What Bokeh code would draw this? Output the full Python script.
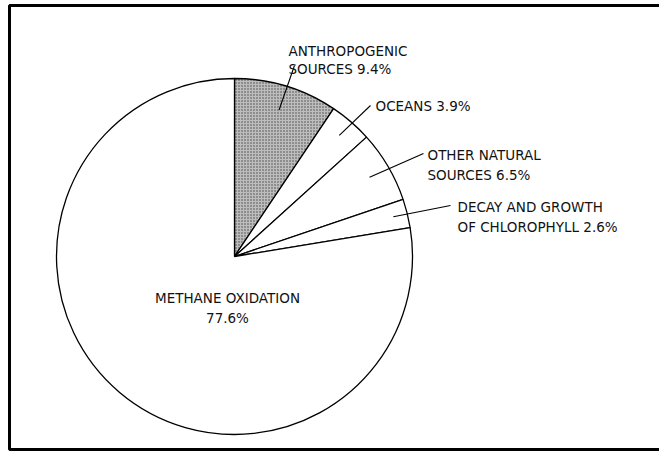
import numpy as np
from bokeh.plotting import figure
from bokeh.models import Range1d
from bokeh.embed import file_html
from bokeh.resources import INLINE
from bokeh.core.properties import value

# ---- data ----
categories = ["ANTHROPOGENIC SOURCES", "OCEANS", "OTHER NATURAL SOURCES",
              "DECAY AND GROWTH OF CHLOROPHYLL", "METHANE OXIDATION"]
shares = [9.4, 3.9, 6.5, 2.6, 77.6]
label_first = ["ANTHROPOGENIC", "OCEANS", "OTHER NATURAL", "DECAY AND GROWTH", "METHANE OXIDATION"]
label_second = ["SOURCES", "", "SOURCES", "OF CHLOROPHYLL", ""]

# ---- layout (page pixel coordinates) ----
W, H = 659, 451
def X(ix):
    return ix
def Y(iy):
    return H - iy

cx, cy = X(234), Y(256)
R = 178

p = figure(width=W, height=H, x_range=Range1d(0, W), y_range=Range1d(0, H),
           output_backend="svg", toolbar_location=None, min_border=0)
p.axis.visible = False
p.grid.visible = False
p.outline_line_color = None
p.background_fill_color = "white"
p.border_fill_color = "white"

# scan frame
p.quad(left=[X(9)], right=[X(668)], top=[Y(5)], bottom=[Y(449)],
       fill_color=None, line_color="black", line_width=3)

fr = np.array(shares) / sum(shares)
cum = np.concatenate([[0], np.cumsum(fr)])
ends = np.pi / 2 - 2 * np.pi * cum[:-1]
starts = np.pi / 2 - 2 * np.pi * cum[1:]
mids = (starts + ends) / 2

for i in range(len(shares)):
    kw = dict(fill_color="white")
    if i == 0:
        kw = dict(fill_color="#bdbdbd", hatch_pattern="dot", hatch_scale=3,
                  hatch_color="#444444", hatch_weight=1)
    p.wedge(x=[cx], y=[cy], radius=R, start_angle=[starts[i]], end_angle=[ends[i]],
            direction="anticlock", line_color="black", line_width=1.3, **kw)

# leader lines: from inside each small slice to its label
leader_end = [(294, 65), (370, 105), (423, 153), (450, 205)]
frac_in = [0.86, 0.9, 0.88, 0.92]
x0 = [cx + frac_in[i] * R * np.cos(mids[i]) for i in range(4)]
y0 = [cy + frac_in[i] * R * np.sin(mids[i]) for i in range(4)]
x1 = [X(e[0]) for e in leader_end]
y1 = [Y(e[1]) for e in leader_end]
p.segment(x0=x0, y0=y0, x1=x1, y1=y1, line_color="black", line_width=1.1)

# labels
pos1 = [(288, 50), (375, 105), (427, 154), (457, 206), (227, 297)]
pos2 = [(288, 68), None, (427, 174), (457, 226), (227, 317)]
font = value("DejaVu Sans")
for i in range(5):
    pct = f"{shares[i]}%"
    if label_second[i]:
        t1 = label_first[i]
        t2 = label_second[i] + " " + pct
    elif i == 4:
        t1 = label_first[i]
        t2 = pct
    else:
        t1 = label_first[i] + " " + pct
        t2 = None
    align = "center" if i == 4 else "left"
    p.text(x=[X(pos1[i][0])], y=[Y(pos1[i][1])], text=[t1], text_font=font,
           text_font_size="13.5px", text_align=align, text_baseline="alphabetic",
           text_color="#111111")
    if t2 is not None:
        p.text(x=[X(pos2[i][0])], y=[Y(pos2[i][1])], text=[t2], text_font=font,
               text_font_size="13.5px", text_align=align, text_baseline="alphabetic",
               text_color="#111111")

open("out.html", "w").write(file_html(p, INLINE))
